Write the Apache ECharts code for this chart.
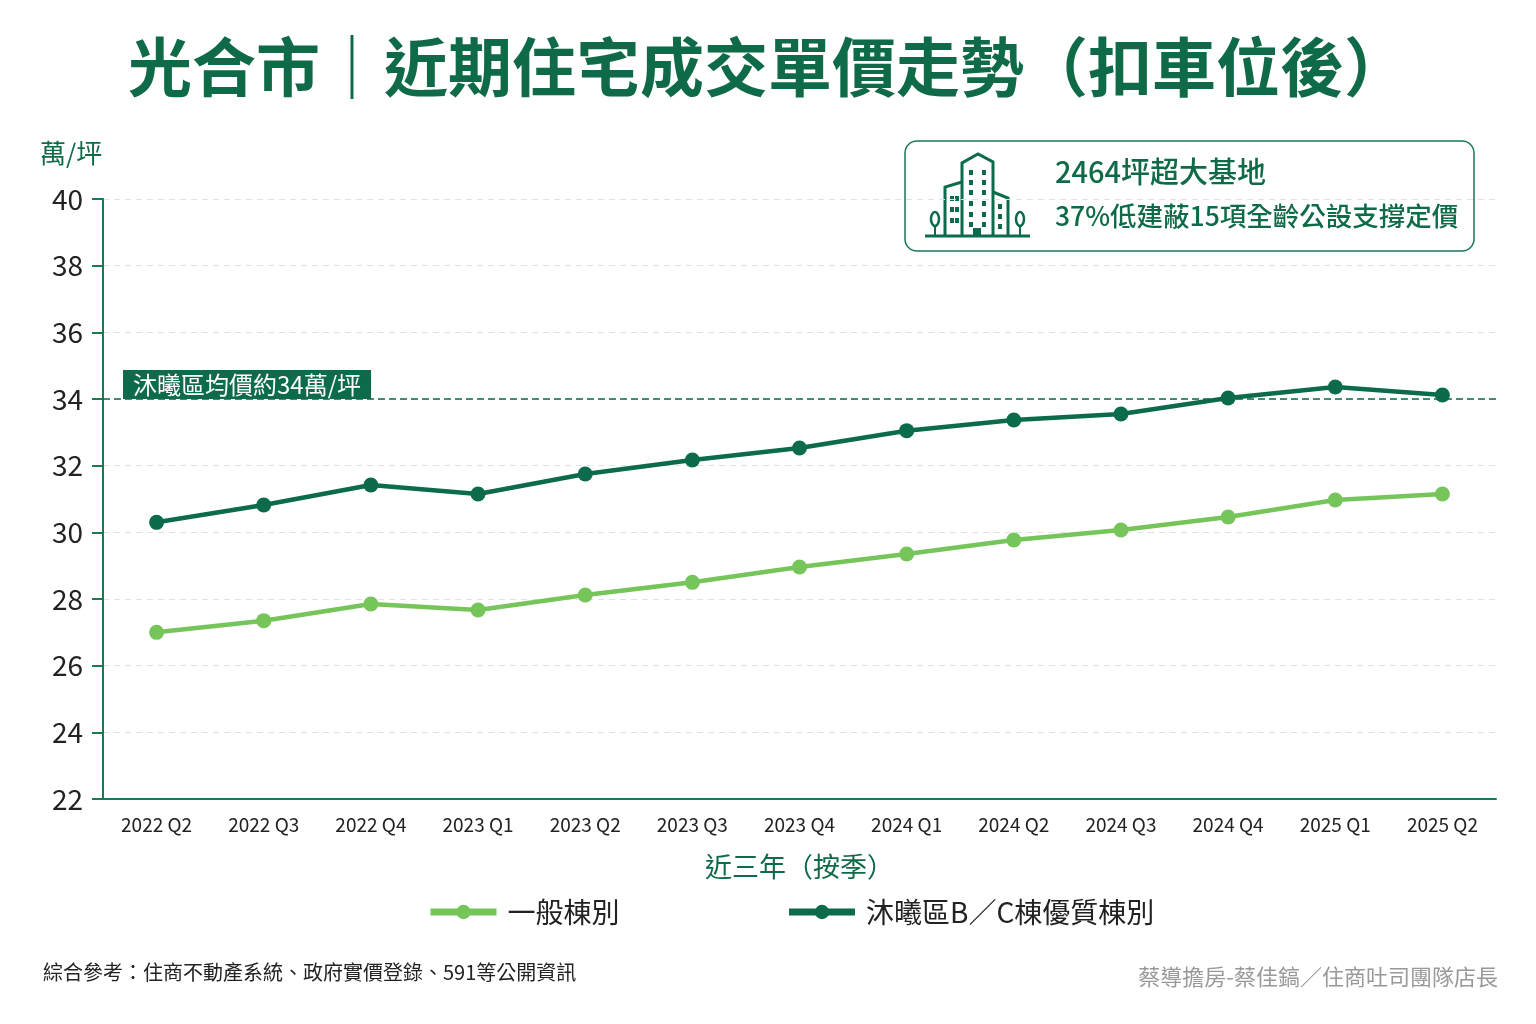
<!DOCTYPE html>
<html>
<head>
<meta charset="utf-8">
<script src="https://cdn.jsdelivr.net/npm/echarts@6/dist/echarts.min.js"></script>
<style>
  html, body { margin: 0; padding: 0; background: #fff; }
  #chart { width: 1536px; height: 1024px; }
</style>
</head>
<body>
<div id="chart"></div>
<script>
const quarters = ['2022 Q2', '2022 Q3', '2022 Q4', '2023 Q1', '2023 Q2', '2023 Q3', '2023 Q4',
  '2024 Q1', '2024 Q2', '2024 Q3', '2024 Q4', '2025 Q1', '2025 Q2'];
const generalPrice = [27.0, 27.35, 27.85, 27.67, 28.12, 28.5, 28.96, 29.35, 29.77, 30.07, 30.46, 30.97, 31.15];
const premiumPrice = [30.3, 30.82, 31.42, 31.15, 31.75, 32.17, 32.53, 33.05, 33.37, 33.55, 34.03, 34.36, 34.12];
const seriesNames = ['一般棟別', '沐曦區B／C棟優質棟別'];
const avgPrice = 34;
const yTicks = { min: 22, max: 40, interval: 2 };

const DARK = '#0b6b4a';
const LIGHT = '#76c55a';
const AXIS = '#1a7a55';
const FONT = '"Noto Sans CJK TC", "Noto Sans", sans-serif';

// building icon inside the info box
const icon = {
  type: 'group',
  children: [
    { type: 'polyline', shape: { points: [[962, 235], [962, 163], [978, 154], [993, 162], [993, 235]] },
      style: { fill: 'none', stroke: DARK, lineWidth: 3 } },
    { type: 'polyline', shape: { points: [[945, 235], [945, 187], [962, 182]] },
      style: { fill: 'none', stroke: DARK, lineWidth: 3 } },
    { type: 'polyline', shape: { points: [[993, 192], [1008, 198], [1008, 235]] },
      style: { fill: 'none', stroke: DARK, lineWidth: 3 } },
    { type: 'line', shape: { x1: 925, y1: 236, x2: 1030, y2: 236 }, style: { stroke: DARK, lineWidth: 3 } },
    { type: 'ellipse', shape: { cx: 935, cy: 219, rx: 4, ry: 7 }, style: { fill: 'none', stroke: DARK, lineWidth: 2.5 } },
    { type: 'line', shape: { x1: 935, y1: 226, x2: 935, y2: 235 }, style: { stroke: DARK, lineWidth: 2 } },
    { type: 'ellipse', shape: { cx: 1020, cy: 219, rx: 4, ry: 7 }, style: { fill: 'none', stroke: DARK, lineWidth: 2.5 } },
    { type: 'line', shape: { x1: 1020, y1: 226, x2: 1020, y2: 235 }, style: { stroke: DARK, lineWidth: 2 } }
  ]
};
[[969, 170], [982, 170], [969, 180], [982, 180], [969, 190], [982, 190], [969, 201], [982, 201],
 [969, 212], [982, 212], [969, 222], [982, 222], [950, 196], [955, 196], [950, 207], [955, 207],
 [950, 218], [955, 218], [998, 204], [998, 214], [998, 224]].forEach(function (p) {
  icon.children.push({ type: 'rect', shape: { x: p[0], y: p[1], width: 4, height: 5 }, style: { fill: DARK } });
});
icon.children.push({ type: 'rect', shape: { x: 973, y: 228, width: 8, height: 8 }, style: { fill: DARK } });

const option = {
  backgroundColor: '#fff',
  textStyle: { fontFamily: FONT },
  animation: false,
  title: {
    text: '光合市｜近期住宅成交單價走勢（扣車位後）',
    left: 'center',
    top: 30,
    textStyle: { fontSize: 64, fontWeight: 'bold', color: '#0f6b47', fontFamily: FONT }
  },
  legend: {
    data: seriesNames,
    left: 422,
    top: 893,
    itemGap: 166,
    itemWidth: 66,
    itemHeight: 18,
    lineStyle: { width: 7 },
    textStyle: { fontSize: 28, color: '#222', fontFamily: FONT, padding: [0, 0, 0, 6] }
  },
  grid: { left: 103, right: 40, top: 199, bottom: 225, containLabel: false },
  xAxis: {
    type: 'category',
    data: quarters,
    name: '近三年（按季）',
    nameLocation: 'middle',
    nameGap: 54,
    nameTextStyle: { fontSize: 27, color: '#0f6b47', fontFamily: FONT },
    axisLine: { lineStyle: { color: AXIS, width: 2 } },
    axisTick: { show: false },
    axisLabel: { fontSize: 19, color: '#222', margin: 16, fontFamily: FONT },
    splitLine: { show: false }
  },
  yAxis: {
    type: 'value',
    min: yTicks.min,
    max: yTicks.max,
    interval: yTicks.interval,
    axisLine: { show: true, lineStyle: { color: AXIS, width: 2 } },
    axisTick: { show: true, length: 11, lineStyle: { color: AXIS, width: 2 } },
    axisLabel: { fontSize: 28, color: '#222', margin: 20, fontFamily: FONT },
    splitLine: { lineStyle: { color: '#e2e2e2', type: [6, 5], width: 1 } }
  },
  series: [
    {
      name: seriesNames[0],
      type: 'line',
      data: generalPrice,
      symbol: 'circle',
      symbolSize: 15,
      lineStyle: { color: LIGHT, width: 4.5 },
      itemStyle: { color: LIGHT }
    },
    {
      name: seriesNames[1],
      type: 'line',
      data: premiumPrice,
      symbol: 'circle',
      symbolSize: 15,
      lineStyle: { color: DARK, width: 4.5 },
      itemStyle: { color: DARK },
      markLine: {
        silent: true,
        symbol: 'none',
        lineStyle: { color: DARK, type: [7, 4], width: 1.5 },
        label: {
          show: true,
          position: 'insideStartTop',
          distance: [20, 0],
          formatter: '沐曦區均價約34萬/坪',
          backgroundColor: DARK,
          color: '#fff',
          fontSize: 24,
          fontFamily: FONT,
          padding: [3, 10, 2, 10]
        },
        data: [{ yAxis: avgPrice }]
      }
    }
  ],
  graphic: [
    { type: 'text', left: 40, top: 140, style: { text: '萬/坪', fontSize: 26, fill: '#0f6b47', fontFamily: FONT } },
    { type: 'rect', shape: { x: 905, y: 141, width: 569, height: 110, r: 12 },
      style: { fill: '#fff', stroke: AXIS, lineWidth: 1.5 } },
    icon,
    { type: 'text', left: 1055, top: 157, style: { text: '2464坪超大基地', fontSize: 29, fontWeight: 500, fill: '#0f6b47', fontFamily: FONT } },
    { type: 'text', left: 1055, top: 203, style: { text: '37%低建蔽15項全齡公設支撐定價', fontSize: 26.5, fontWeight: 500, fill: '#0f6b47', fontFamily: FONT } },
    { type: 'text', left: 43, top: 962, style: { text: '綜合參考：住商不動產系統、政府實價登錄、591等公開資訊', fontSize: 20, fill: '#222', fontFamily: FONT } },
    { type: 'text', right: 38, top: 966, style: { text: '蔡導擔房-蔡佳鎬／住商吐司團隊店長', fontSize: 22, fill: '#999', fontFamily: FONT } }
  ]
};

const chart = echarts.init(document.getElementById('chart'));
chart.setOption(option);
</script>
</body>
</html>
